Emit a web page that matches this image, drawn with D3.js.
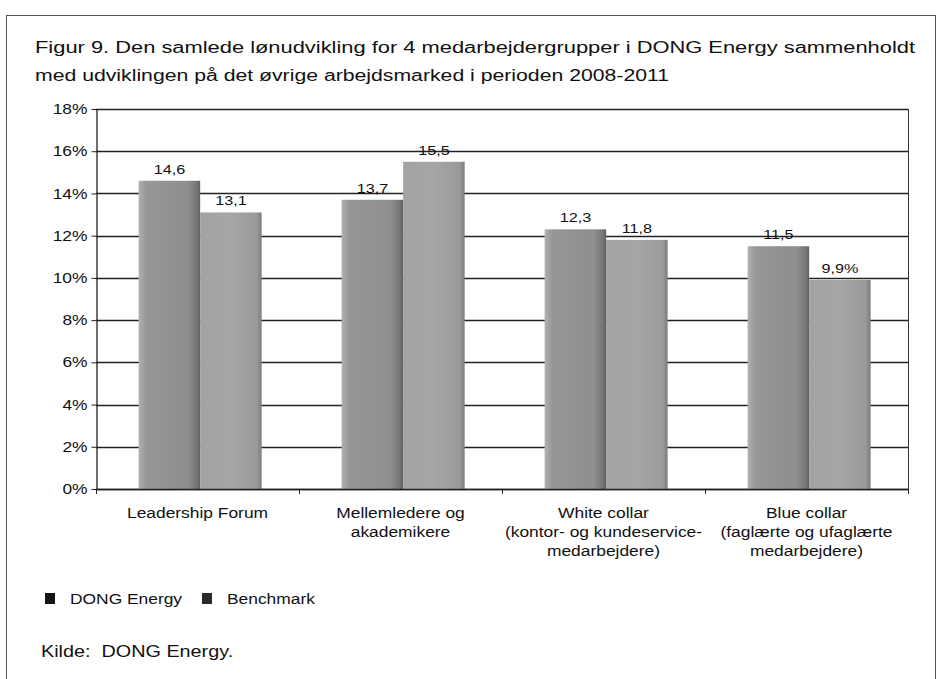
<!DOCTYPE html>
<html lang="da">
<head>
<meta charset="UTF-8">
<title>Figur 9. Lønudvikling DONG Energy</title>
<script src="https://cdnjs.cloudflare.com/ajax/libs/d3/7.8.5/d3.min.js"></script>
<style>
  body { margin: 0; background: #fff; }
  svg text { font-family: "Liberation Sans", Arial, sans-serif; fill: #111; }
</style>
</head>
<body>
<div id="chart"></div>
<script>
// data
const kategorier = [
  ["Leadership Forum"],
  ["Mellemledere og", "akademikere"],
  ["White collar", "(kontor- og kundeservice-", "medarbejdere)"],
  ["Blue collar", "(faglærte og ufaglærte", "medarbejdere)"]
];
const serier = ["DONG Energy", "Benchmark"];
const dongEnergy = [14.6, 13.7, 12.3, 11.5];
const benchmark = [13.1, 15.5, 11.8, 9.9];
const etiketter = [["14,6", "13,1"], ["13,7", "15,5"], ["12,3", "11,8"], ["11,5", "9,9%"]];
const yTicks = [0, 2, 4, 6, 8, 10, 12, 14, 16, 18];

const width = 937, height = 679;
const plot = { left: 96, right: 908, top: 109, bottom: 489 };
const sx = 1.2; // the scan is stretched sideways

const svg = d3.select("#chart").append("svg")
  .attr("width", width).attr("height", height);

// scanned-looking gray fills
const defs = svg.append("defs");
function grad(id, stops) {
  const g = defs.append("linearGradient").attr("id", id)
    .attr("x1", "0%").attr("x2", "100%").attr("y1", "0%").attr("y2", "0%");
  stops.forEach(s => g.append("stop").attr("offset", s[0]).attr("stop-color", s[1]));
}
grad("gDong", [["0%", "#b0b0b0"], ["12%", "#979797"], ["80%", "#8e8e8e"], ["94%", "#767676"], ["100%", "#606060"]]);
grad("gBench", [["0%", "#a3a3a3"], ["50%", "#a6a6a6"], ["92%", "#9a9a9a"], ["100%", "#7c7c7c"]]);

// outer frame
svg.append("rect")
  .attr("x", 6.5).attr("y", 15.5).attr("width", 929).attr("height", 700)
  .attr("fill", "none").attr("stroke", "#555").attr("stroke-width", 1);

// title
const titel = [
  "Figur 9. Den samlede lønudvikling for 4 medarbejdergrupper i DONG Energy sammenholdt",
  "med udviklingen på det øvrige arbejdsmarked i perioden 2008-2011"
];
svg.append("text").attr("x", 35).attr("y", 53)
  .attr("font-size", 16).attr("textLength", 880).attr("lengthAdjust", "spacingAndGlyphs")
  .text(titel[0]);
svg.append("text").attr("x", 35).attr("y", 81)
  .attr("font-size", 16).attr("textLength", 634).attr("lengthAdjust", "spacingAndGlyphs")
  .text(titel[1]);

const x0 = d3.scaleBand()
  .domain(d3.range(kategorier.length))
  .range([plot.left, plot.right])
  .paddingInner(0).paddingOuter(0);

const x1 = d3.scaleBand()
  .domain(serier)
  .range([x0.bandwidth() * 0.21, x0.bandwidth() * 0.816])
  .padding(0);

const y = d3.scaleLinear().domain([0, 18]).range([plot.bottom, plot.top]);

// gridlines
svg.append("g")
  .selectAll("line")
  .data(yTicks)
  .join("line")
  .attr("x1", plot.left).attr("x2", plot.right)
  .attr("y1", d => Math.round(y(d)) + 0.5).attr("y2", d => Math.round(y(d)) + 0.5)
  .attr("stroke", "#222").attr("stroke-width", 1.3);

// plot border right
svg.append("line")
  .attr("x1", plot.right + 0.5).attr("x2", plot.right + 0.5)
  .attr("y1", plot.top).attr("y2", plot.bottom)
  .attr("stroke", "#333");

// y axis
const yAxis = svg.append("g")
  .attr("transform", `translate(${plot.left + 0.5},0)`)
  .call(d3.axisLeft(y).tickValues(yTicks).tickFormat(d => d + "%").tickSize(5).tickSizeOuter(0));
yAxis.select(".domain").attr("stroke", "#222").attr("stroke-width", 1.3);
yAxis.selectAll("line").attr("stroke", "#222");
yAxis.selectAll("text")
  .attr("font-size", 14.5).attr("x", -9 / sx).attr("fill", "#111")
  .attr("font-family", "Liberation Sans, Arial, sans-serif")
  .attr("transform", `scale(${sx},1)`);

// bars
const rows = kategorier.map((c, i) => ({ i, vals: [dongEnergy[i], benchmark[i]] }));
const groups = svg.append("g").selectAll("g")
  .data(rows)
  .join("g")
  .attr("transform", d => `translate(${x0(d.i)},0)`);

groups.selectAll("rect")
  .data(d => d.vals.map((v, k) => ({ k, v })))
  .join("rect")
  .attr("x", d => x1(serier[d.k]))
  .attr("y", d => y(d.v))
  .attr("width", x1.bandwidth())
  .attr("height", d => y(0) - y(d.v))
  .attr("fill", d => d.k === 0 ? "url(#gDong)" : "url(#gBench)");

// value labels
groups.selectAll("text.val")
  .data(d => d.vals.map((v, k) => ({ k, v, lab: etiketter[d.i][k] })))
  .join("text")
  .attr("class", "val")
  .attr("transform", d => `translate(${x1(serier[d.k]) + x1.bandwidth() / 2},${y(d.v) - 7}) scale(${sx},1)`)
  .attr("text-anchor", "middle")
  .attr("font-size", 13.5)
  .text(d => d.lab);

// x axis line and ticks at group boundaries
svg.append("line")
  .attr("x1", plot.left).attr("x2", plot.right)
  .attr("y1", plot.bottom + 0.5).attr("y2", plot.bottom + 0.5)
  .attr("stroke", "#222").attr("stroke-width", 1.5);
svg.append("g").selectAll("line")
  .data(d3.range(kategorier.length + 1))
  .join("line")
  .attr("x1", i => i < kategorier.length ? x0(i) + 0.5 : plot.right + 0.5)
  .attr("x2", i => i < kategorier.length ? x0(i) + 0.5 : plot.right + 0.5)
  .attr("y1", plot.bottom).attr("y2", plot.bottom + 5)
  .attr("stroke", "#222");

// category labels
const catG = svg.append("g").selectAll("text")
  .data(kategorier)
  .join("text")
  .attr("text-anchor", "middle")
  .attr("font-size", 14.5)
  .attr("transform", (d, i) => `translate(${x0(i) + x0.bandwidth() / 2},${plot.bottom + 29}) scale(${sx},1)`);
catG.selectAll("tspan")
  .data(d => d)
  .join("tspan")
  .attr("x", 0)
  .attr("dy", (d, j) => j === 0 ? 0 : 19)
  .text(d => d);

// legend
const legX = [45, 202];
serier.forEach((s, k) => {
  svg.append("rect")
    .attr("x", legX[k]).attr("y", 593).attr("width", 10).attr("height", 11)
    .attr("fill", k === 0 ? "#151515" : "#2a2a2a");
  svg.append("text")
    .attr("transform", `translate(${legX[k] + 25},604) scale(${sx},1)`)
    .attr("font-size", 14.5)
    .text(s);
});

// source
svg.append("text")
  .attr("transform", `translate(41,657) scale(${sx},1)`)
  .attr("font-size", 16.5)
  .attr("xml:space", "preserve")
  .text("Kilde:  DONG Energy.");
</script>
</body>
</html>
